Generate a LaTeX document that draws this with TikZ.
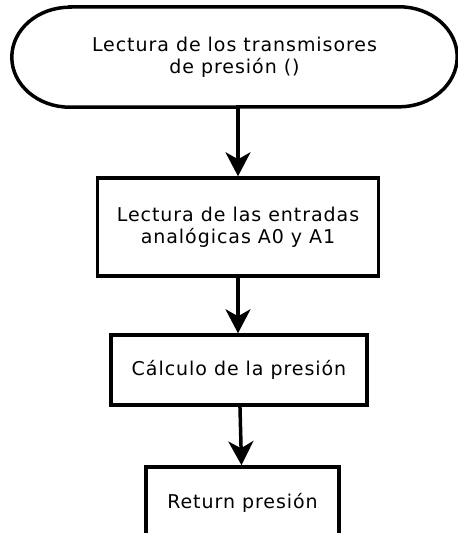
\documentclass[tikz,border=0pt]{standalone}
\usepackage{fontspec}
\setmainfont[LetterSpace=5]{DejaVu Sans}
\usetikzlibrary{arrows.meta}
\tikzset{
    x=1pt, y=-1pt,
    texto/.style={align=center, inner sep=0pt, font=\fontsize{19pt}{22pt}\selectfont},
    caja/.style={texto, draw, line width=3.5pt},
    flecha/.style={
        -{Stealth[length=24pt,width=25pt,inset=7pt]},
        line width=3.5pt
    }
}

\begin{document}
\begin{tikzpicture}
        \useasboundingbox (0,0) rectangle (458,533);
        % inicio
        \node[texto, minimum width=445pt, minimum height=100pt] (inicio) at (234.5,57)
            {Lectura de los transmisores\\de presión ()};
        \draw[line width=3.5pt] ([xshift=58pt]inicio.north west) -- ([xshift=-58pt]inicio.north east)
            arc[start angle=90, end angle=-90, x radius=58pt, y radius=50pt]
            -- ([xshift=58pt]inicio.south west)
            arc[start angle=270, end angle=90, x radius=58pt, y radius=50pt] -- cycle;

        \node[caja, minimum width=281pt, minimum height=98pt] (lectura) at (238,227)
            {Lectura de las entradas\\analógicas A0 y A1};
        \node[caja, minimum width=256pt, minimum height=70pt] (calculo) at (239,370)
            {Cálculo de la presión};
        \node[caja, minimum width=193pt, minimum height=72pt] (retorno) at (242.5,503)
            {Return presión};

        \draw[flecha] (lectura.north |- inicio.south) -- (lectura.north);
        \draw[flecha] (lectura.south) -- (calculo.north -| lectura.south);
        \draw[flecha] (calculo) -- (retorno);
    \end{tikzpicture}
\end{document}
